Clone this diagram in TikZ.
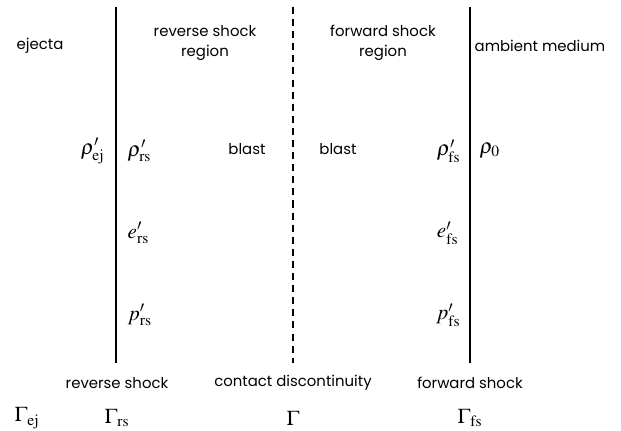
\documentclass[tikz,border=0pt]{standalone}
\usepackage{mathptmx}
\usepackage[no-math]{fontspec}
\setmainfont{Poppins}
\usetikzlibrary{positioning}
\tikzset{
  front/.style={line width=2pt},
  contact/.style={line width=2pt, dash pattern=on 5pt off 3.6pt},
  lbl/.style={font=\fontsize{10.6}{14.2}\selectfont, align=center, inner sep=1pt},
  sym/.style={font=\fontsize{15}{17}\selectfont, inner sep=1pt},
}

\begin{document}
\begin{tikzpicture}[x=0.025cm, y=-0.025cm]
\useasboundingbox (0,0) rectangle (621,431);

% discontinuities
\coordinate (rstop) at (116,7);   \coordinate (rsbot) at (116,363);
\coordinate (cdtop) at (293,7);   \coordinate (cdbot) at (293,363);
\coordinate (fstop) at (470,7);   \coordinate (fsbot) at (470,363);
\draw[front] (rstop) -- (rsbot);
\draw[contact] (cdtop) -- (cdbot);
\draw[front] (fstop) -- (fsbot);

% regions
\node[lbl] (ejecta) at (40,46) {ejecta};
\node[lbl] (rsreg) at (205,43) {reverse shock\\region};
\node[lbl] (fsreg) at (383,43) {forward shock\\region};
\node[lbl] (amb) at (540,46) {ambient medium};
\node[lbl] (blastl) at (247,149) {blast};
\node[lbl] (blastr) at (338,149) {blast};

% quantities
\node[sym, anchor=east] (rhoej) at (106,151) {$\rho'_{\mathrm{ej}}$};
\node[sym, anchor=west] (rhors) at (126,151) {$\rho'_{\mathrm{rs}}$};
\node[sym, anchor=west] (ers) at (126,233) {$e'_{\mathrm{rs}}$};
\node[sym, anchor=west] (prs) at (126,315) {$p'_{\mathrm{rs}}$};
\node[sym, anchor=east] (rhofs) at (462,151) {$\rho'_{\mathrm{fs}}$};
\node[sym, anchor=east] (efs) at (460,233) {$e'_{\mathrm{fs}}$};
\node[sym, anchor=east] (pfs) at (462,315) {$p'_{\mathrm{fs}}$};
\node[sym, anchor=west] (rho0) at (478,151) {$\rho_0$};

% fronts
\node[lbl] (rslab) at (117,383) {reverse shock};
\node[lbl] (cdlab) at (293,383) {contact discontinuity};
\node[lbl] (fslab) at (470,383) {forward shock};

% Lorentz factors
\node[sym] (gej) at (27,418) {$\Gamma_{\mathrm{ej}}$};
\node[sym] (grs) at (117,418) {$\Gamma_{\mathrm{rs}}$};
\node[sym] (gcd) at (293,418) {$\Gamma$};
\node[sym] (gfs) at (470,418) {$\Gamma_{\mathrm{fs}}$};

\end{tikzpicture}
\end{document}
